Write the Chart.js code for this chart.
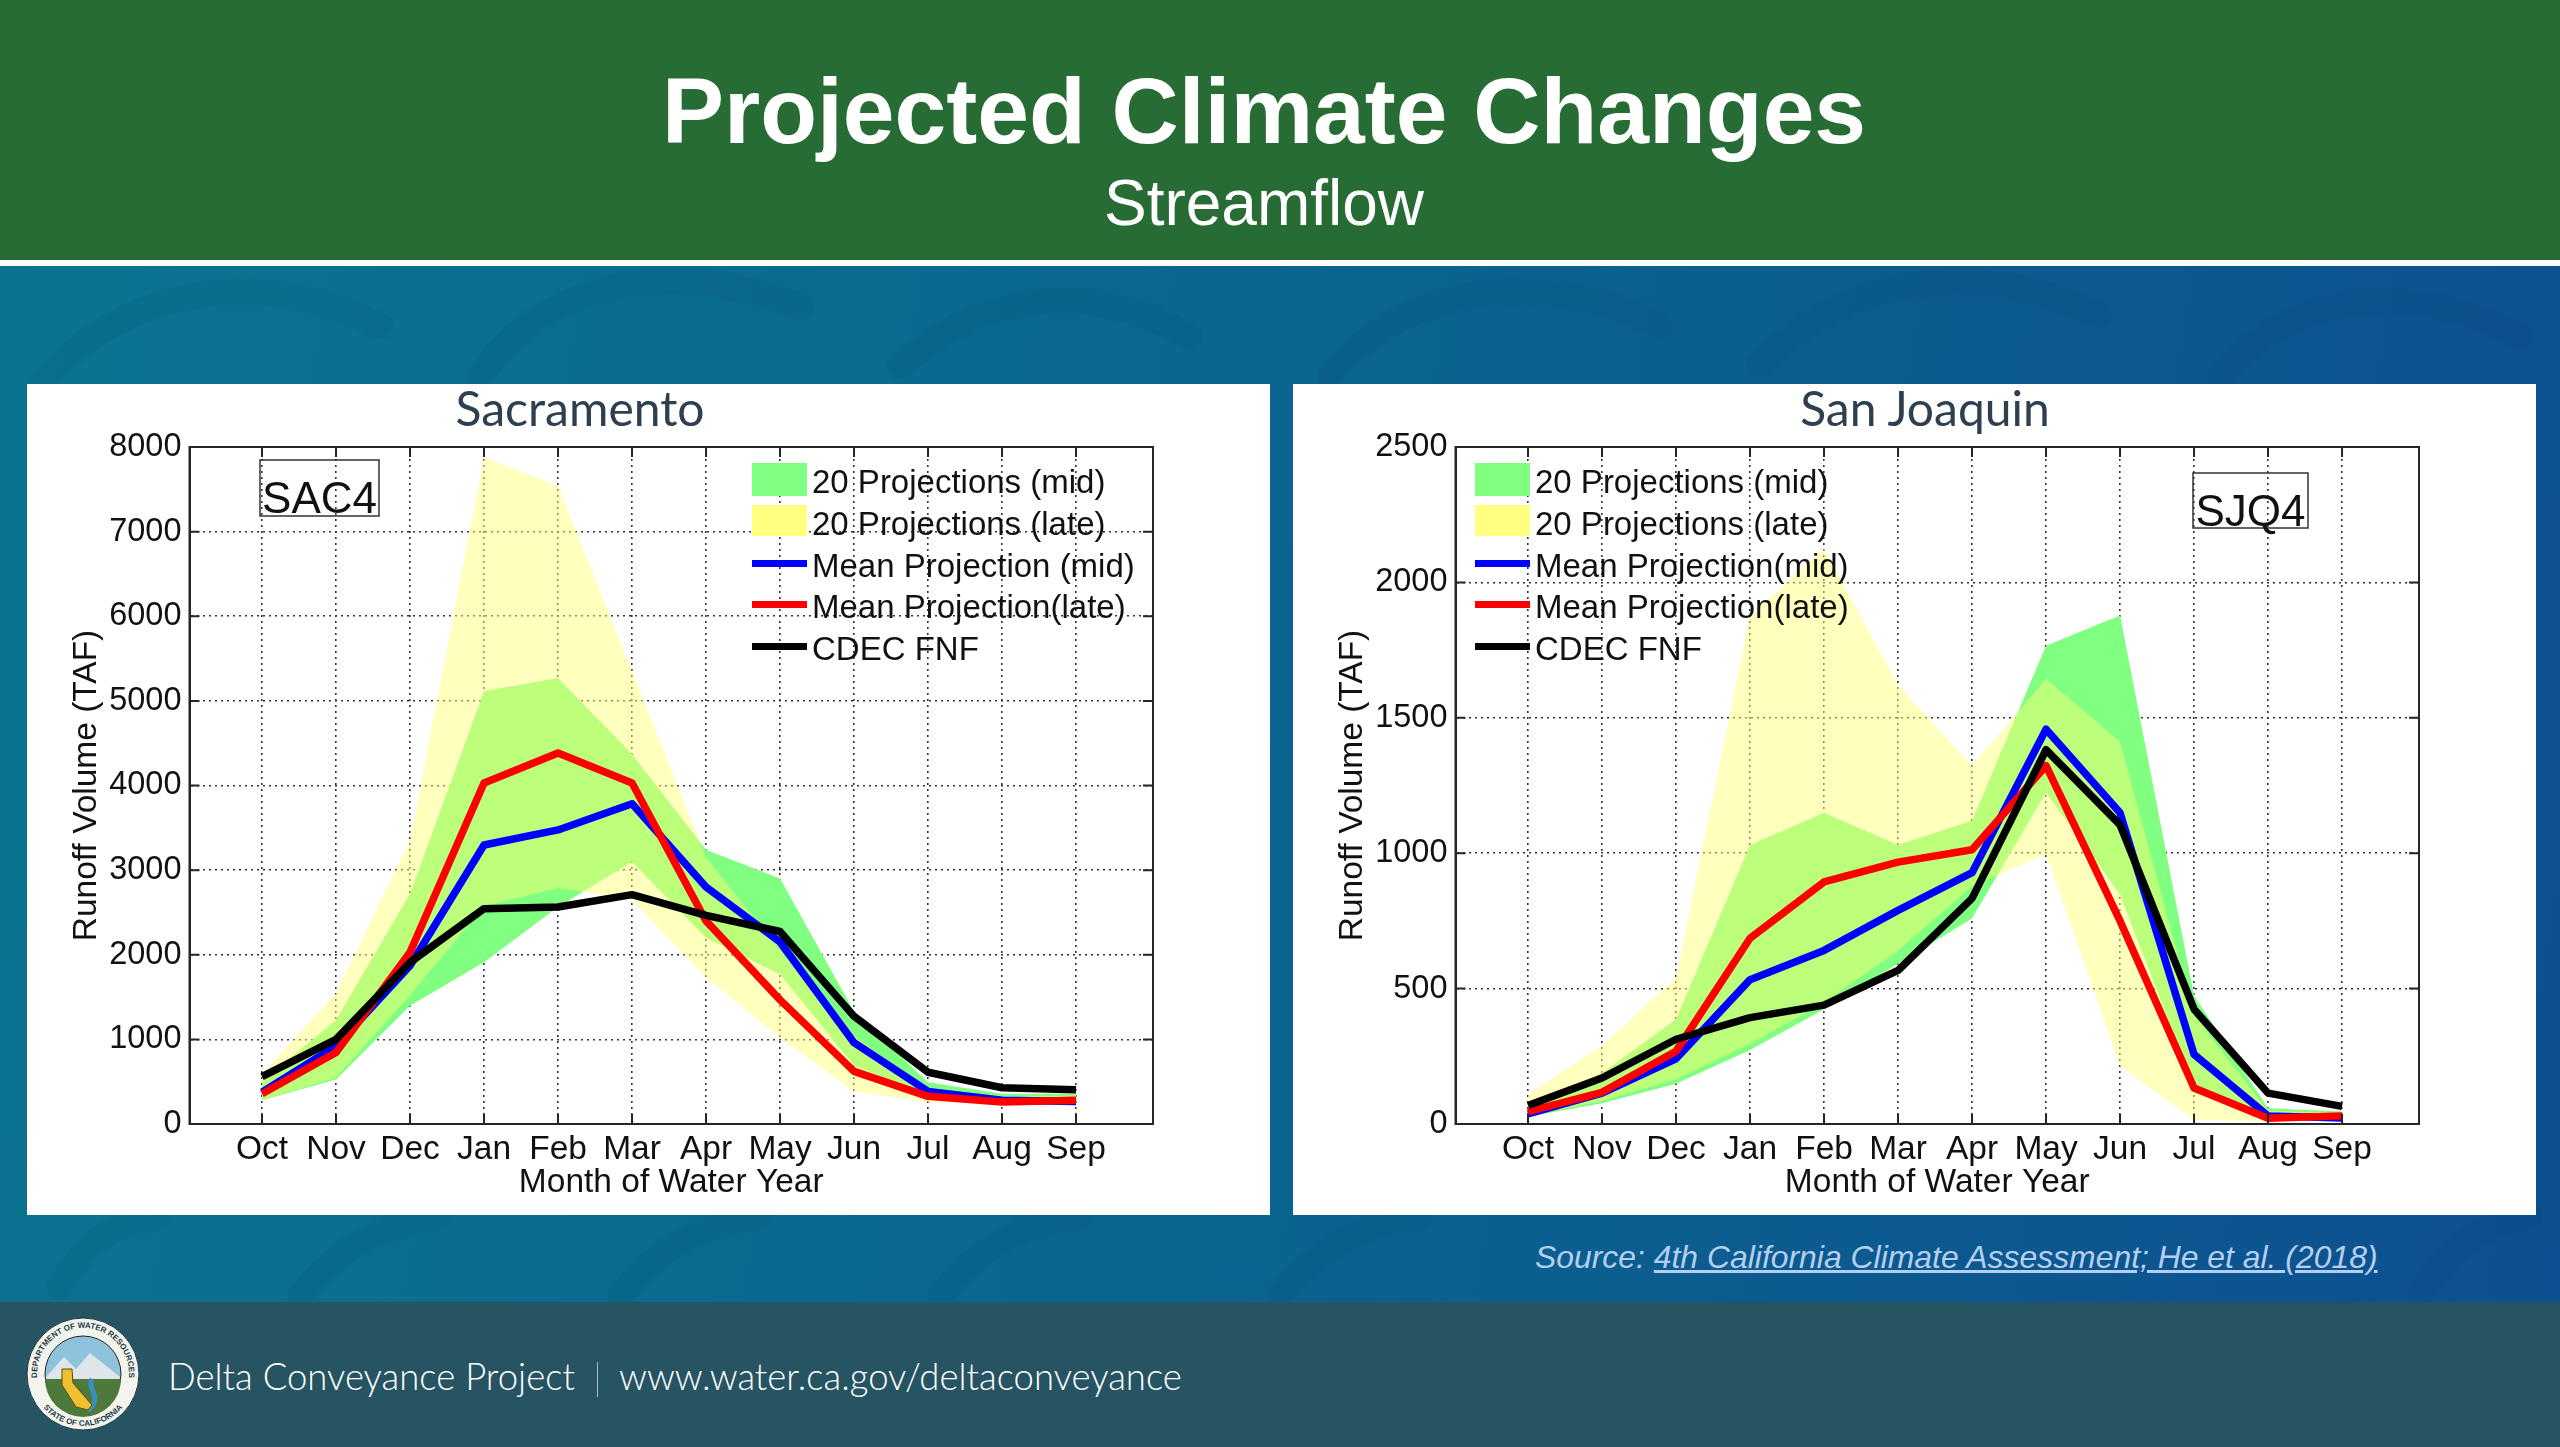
<!DOCTYPE html>
<html>
<head>
<meta charset="utf-8">
<title>Projected Climate Changes</title>
<script src="https://cdn.jsdelivr.net/npm/chart.js@4"></script>
<style>
html, body { margin: 0; padding: 0; }
body { width: 2560px; height: 1447px; position: relative; overflow: hidden; font-family: "Liberation Sans", Arial, sans-serif;
  background: linear-gradient(100deg, #0a7590 0%, #0a6690 45%, #0d4f90 100%); }
.pattern { position: absolute; left: 0; top: 266px; }
.header { position: absolute; left: 0; top: 0; width: 2560px; height: 260px; background: #276b35; color: #fff; text-align: center; }
.rule { position: absolute; left: 0; top: 260px; width: 2560px; height: 6px; background: #fff; }
h1 { position: absolute; left: 0; width: 2528px; top: 56px; margin: 0; font-size: 93px; line-height: 110px; font-weight: bold; }
h2 { position: absolute; left: 0; width: 2528px; top: 166px; margin: 0; font-size: 64px; line-height: 74px; font-weight: normal; }
.card { position: absolute; top: 384px; width: 1243px; height: 831px; background: #fff; }
.card canvas { position: absolute; left: 0; top: 0; }
.card h3 { position: absolute; top: -2px; margin: 0; font-family: Lato, sans-serif; font-weight: normal; font-size: 48px; line-height: 52px; color: #2e3f50; transform: translateX(-50%); white-space: nowrap; }
.source { position: absolute; left: 1535px; top: 1238px; font-size: 31.9px; line-height: 38px; font-style: italic; color: #b4cfee; white-space: nowrap; }
.source a { color: #b4cfee; text-decoration: underline; }
.footer { position: absolute; left: 0; top: 1302px; width: 2560px; height: 145px; background: #275463; color: #fff; font-family: Lato, sans-serif; font-weight: 300; }
.footer span { position: absolute; top: 51px; font-size: 36.5px; line-height: 46px; white-space: nowrap; }
.footer i { position: absolute; left: 597px; top: 60px; width: 1px; height: 35px; background: #a9bcc3; }
.footer svg { position: absolute; left: 26px; top: 15px; }
</style>
</head>
<body>
<svg class="pattern" width="2560" height="1040" viewBox="0 0 2560 1040" fill="none" stroke-linecap="round">
  <g stroke="#003c64" stroke-opacity="0.07" stroke-width="26">
    <path d="M 40 120 C 120 20 260 0 380 60"/><path d="M 480 110 C 540 20 660 -10 800 40"/>
    <path d="M 900 100 C 980 30 1080 10 1190 70"/><path d="M 1330 110 C 1400 20 1540 0 1660 60"/>
    <path d="M 1760 100 C 1840 10 1980 -10 2100 50"/><path d="M 2220 110 C 2290 30 2400 10 2520 70"/>
    <path d="M 60 1020 C 90 970 110 960 160 950"/><path d="M 300 1030 C 340 980 380 960 440 950"/>
    <path d="M 620 1030 C 660 980 700 960 760 950"/><path d="M 940 1030 C 980 980 1020 960 1080 950"/>
    <path d="M 1280 1030 C 1320 980 1360 960 1420 950"/><path d="M 2420 1030 C 2450 980 2480 960 2530 950"/>
  </g>
</svg>
<div class="header">
  <h1>Projected Climate Changes</h1>
  <h2>Streamflow</h2>
</div>
<div class="rule"></div>

<div class="card" style="left:27px"><canvas id="sacChart" width="1243" height="831"></canvas><h3 style="left:553px">Sacramento</h3></div>
<div class="card" style="left:1293px"><canvas id="sjqChart" width="1243" height="831"></canvas><h3 style="left:632px">San Joaquin</h3></div>

<div class="source">Source: <a href="#">4th California Climate Assessment; He et al. (2018)</a></div>

<div class="footer">
  <svg width="114" height="114" viewBox="0 0 114 114">
    <defs>
      <path id="sealTop" d="M 13.8 72.7 A 46 46 0 1 1 100.2 72.7"/>
      <path id="sealBottom" d="M 12 83 A 52 52 0 0 0 102 83"/>
    </defs>
    <circle cx="57" cy="57" r="56" fill="#f4f4ee" stroke="#1d3a44"/>
    <circle cx="57" cy="57" r="38" fill="#8fc2dc" stroke="#222"/>
    <path d="M 20 60 L 38 40 L 50 52 L 64 36 L 94 60 L 90 76 L 57 94 L 26 78 Z" fill="#dfe6ea"/>
    <path d="M 19 62 L 95 62 A 38 38 0 0 1 19 62 Z" fill="#4d7a3a"/>
    <path d="M 66 62 C 60 72 78 78 62 94" fill="none" stroke="#3b8fc0" stroke-width="5"/>
    <path d="M 36 52 L 46 52 L 47 66 L 66 88 L 62 93 L 50 90 L 36 68 Z" fill="#f0c030" stroke="#5a4a10"/>
    <text font-family="Liberation Sans" font-size="8" font-weight="bold" fill="#1d3a44"><textPath href="#sealTop" startOffset="50%" text-anchor="middle">DEPARTMENT OF WATER RESOURCES</textPath></text>
    <text font-family="Liberation Sans" font-size="8" font-weight="bold" fill="#1d3a44"><textPath href="#sealBottom" startOffset="50%" text-anchor="middle">STATE OF CALIFORNIA</textPath></text>
  </svg>
  <span style="left:168px">Delta Conveyance Project</span>
  <i></i>
  <span style="left:619px">www.water.ca.gov/deltaconveyance</span>
</div>

<script>
const months = ['Oct', 'Nov', 'Dec', 'Jan', 'Feb', 'Mar', 'Apr', 'May', 'Jun', 'Jul', 'Aug', 'Sep'];
const legendLabels = ['20 Projections (mid)', '20 Projections (late)', 'Mean Projection (mid)', 'Mean Projection(late)', 'CDEC FNF'];
const legendLabelsSjq = ['20 Projections (mid)', '20 Projections (late)', 'Mean Projection(mid)', 'Mean Projection(late)', 'CDEC FNF'];

// Sacramento
const sacMidUpper  = [500, 1230, 2720, 5115, 5270, 4370, 3240, 2900, 1330, 494, 358, 358];
const sacMidLower  = [280, 525, 1396, 1910, 2565, 3100, 2200, 1770, 690, 330, 250, 240];
const sacLateUpper = [590, 1545, 3350, 7880, 7540, 5350, 3150, 2050, 1040, 400, 320, 340];
const sacLateLower = [280, 550, 1520, 2575, 2790, 2650, 1730, 1020, 385, 260, 240, 230];
const sacMeanMid   = [377, 922, 1870, 3297, 3475, 3785, 2800, 2150, 961, 385, 280, 265];
const sacMeanLate  = [358, 844, 2030, 4030, 4385, 4030, 2400, 1467, 622, 327, 260, 280];
const sacCdec      = [560, 1000, 1910, 2545, 2565, 2710, 2465, 2275, 1272, 611, 428, 405];

// San Joaquin
const sjqMidUpper  = [65, 188, 387, 1030, 1149, 1030, 1120, 1766, 1878, 474, 58, 46];
const sjqMidLower  = [27, 77, 149, 273, 424, 592, 759, 1224, 848, 133, 21, 21];
const sjqLateUpper = [108, 288, 542, 1877, 2124, 1620, 1323, 1644, 1412, 400, 50, 40];
const sjqLateLower = [30, 85, 165, 295, 450, 640, 878, 997, 215, 15, 10, 20];
const sjqMeanMid   = [37, 114, 241, 533, 641, 789, 928, 1458, 1149, 257, 30, 22];
const sjqMeanLate  = [46, 117, 269, 686, 894, 967, 1013, 1323, 750, 133, 21, 30];
const sjqCdec      = [68, 170, 313, 393, 439, 567, 833, 1382, 1105, 424, 114, 65];

const GREEN = 'rgb(128,255,128)';
const YELLOW = 'rgba(255,255,115,0.465)';
const AXIS = '#262626';
const FONT = '"Liberation Sans", Arial, sans-serif';

// Oct sits at x=1 and Sep at x=12, with an empty month each side
function puntos(valores) {
    return valores.map((v, i) => ({ x: i + 1, y: v }));
}

function linea(valores, color) {
    return { data: puntos(valores), borderColor: color, borderWidth: 7.5, borderJoinStyle: 'round', pointRadius: 0, tension: 0, fill: false };
}

function banda(valores, color, relleno) {
    return { data: puntos(valores), borderWidth: 0, borderColor: 'transparent', backgroundColor: color, pointRadius: 0, tension: 0, fill: relleno };
}

// MATLAB style box with inward ticks, plus the in-plot legend and run label
const cajaPlugin = {
    id: 'caja',
    afterDraw(chart, args, opts) {
        const ctx = chart.ctx;
        const a = chart.chartArea;
        ctx.save();
        ctx.setLineDash([]);
        ctx.strokeStyle = AXIS;
        ctx.lineWidth = 2;
        ctx.strokeRect(a.left, a.top, a.right - a.left, a.bottom - a.top);
        ctx.beginPath();
        chart.scales.x.ticks.forEach(t => {
            const px = chart.scales.x.getPixelForValue(t.value);
            ctx.moveTo(px, a.bottom); ctx.lineTo(px, a.bottom - 10);
            ctx.moveTo(px, a.top); ctx.lineTo(px, a.top + 10);
        });
        chart.scales.y.ticks.forEach(t => {
            const py = chart.scales.y.getPixelForValue(t.value);
            ctx.moveTo(a.left, py); ctx.lineTo(a.left + 10, py);
            ctx.moveTo(a.right, py); ctx.lineTo(a.right - 10, py);
        });
        ctx.stroke();

        // legend
        const swatches = [GREEN, 'rgb(255,255,128)', 'rgb(0,0,255)', 'rgb(255,0,0)', '#000'];
        const filas = [97, 139, 181, 222, 264];
        ctx.font = '33px ' + FONT;
        ctx.textBaseline = 'middle';
        ctx.textAlign = 'left';
        opts.labels.forEach((txt, i) => {
            const y = filas[i];
            ctx.fillStyle = swatches[i];
            if (i < 2) {
                ctx.fillRect(opts.legendX, y - 18, 55, i === 0 ? 33 : 31);
            } else {
                ctx.fillRect(opts.legendX, y - 5, 55, 7);
            }
            ctx.fillStyle = '#111';
            ctx.fillText(txt, opts.legendX + 60, y + 3);
        });

        // run label
        ctx.strokeStyle = '#333';
        ctx.lineWidth = 1.5;
        ctx.strokeRect(opts.runBox[0], opts.runBox[1], opts.runBox[2], opts.runBox[3]);
        ctx.fillStyle = '#111';
        ctx.font = '44px ' + FONT;
        ctx.textAlign = 'center';
        ctx.fillText(opts.run, opts.runBox[0] + opts.runBox[2] / 2, opts.runBox[1] + opts.runBox[3] / 2 + 13);
        ctx.restore();
    }
};

function dibujarGrafico(id, s, yMax, yStep, cfg) {
    const ctx = document.getElementById(id).getContext('2d');
    return new Chart(ctx, {
        type: 'line',
        data: {
            datasets: [
                linea(s.cdec, '#000'),
                linea(s.meanLate, 'rgb(255,0,0)'),
                linea(s.meanMid, 'rgb(0,0,255)'),
                banda(s.lateUpper, YELLOW, '+1'),
                banda(s.lateLower, YELLOW, false),
                banda(s.midUpper, GREEN, '+1'),
                banda(s.midLower, GREEN, false)
            ]
        },
        options: {
            responsive: false,
            animation: false,
            devicePixelRatio: 1,
            layout: { padding: { top: 63, right: 117, bottom: 0, left: 0 } },
            plugins: {
                legend: { display: false },
                tooltip: { enabled: false },
                caja: cfg
            },
            scales: {
                x: {
                    type: 'linear',
                    min: 0.02,
                    max: 13.04,
                    afterFit(scale) { scale.height = 91; },
                    afterBuildTicks(scale) {
                        scale.ticks = months.map((m, i) => ({ value: i + 1 }));
                    },
                    border: { color: AXIS, width: 2, dash: [2, 4] },
                    grid: { color: '#333', lineWidth: 1.6, drawTicks: false },
                    ticks: {
                        autoSkip: false,
                        maxRotation: 0,
                        padding: 6,
                        color: '#111',
                        font: { family: FONT, size: 33.5 },
                        callback: v => months[v - 1] || ''
                    },
                    title: { display: true, text: 'Month of Water Year', color: '#111', font: { family: FONT, size: 33.5 }, padding: { top: 0, bottom: 12 } }
                },
                y: {
                    min: 0,
                    max: yMax,
                    afterFit(scale) { scale.width = 162.5; },
                    border: { color: AXIS, width: 2, dash: [2, 4] },
                    grid: { color: '#333', lineWidth: 1.6, drawTicks: false },
                    ticks: {
                        stepSize: yStep,
                        padding: 8,
                        color: '#111',
                        font: { family: FONT, size: 32.5 },
                        callback: v => String(v)
                    },
                    title: { display: true, text: 'Runoff Volume (TAF)', color: '#111', font: { family: FONT, size: 33.5 }, padding: { top: 40, bottom: 0 } }
                }
            }
        },
        plugins: [cajaPlugin]
    });
}

dibujarGrafico('sacChart', {
    midUpper: sacMidUpper, midLower: sacMidLower, lateUpper: sacLateUpper, lateLower: sacLateLower,
    meanMid: sacMeanMid, meanLate: sacMeanLate, cdec: sacCdec
}, 8000, 1000, { labels: legendLabels, legendX: 725, run: 'SAC4', runBox: [233, 76, 119, 56] });

dibujarGrafico('sjqChart', {
    midUpper: sjqMidUpper, midLower: sjqMidLower, lateUpper: sjqLateUpper, lateLower: sjqLateLower,
    meanMid: sjqMeanMid, meanLate: sjqMeanLate, cdec: sjqCdec
}, 2500, 500, { labels: legendLabelsSjq, legendX: 182, run: 'SJQ4', runBox: [900, 89, 115, 55] });
</script>
</body>
</html>
